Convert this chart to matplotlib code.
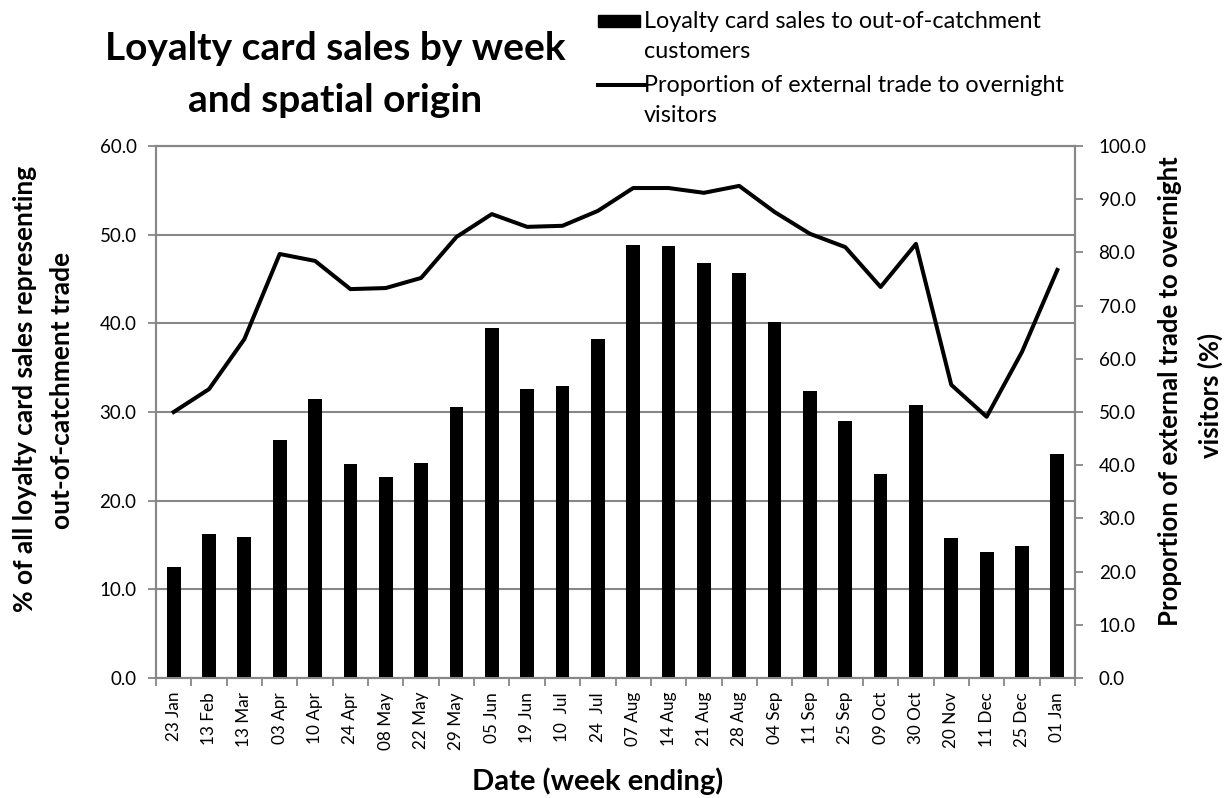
import numpy as np
import matplotlib.pyplot as plt
from matplotlib.patches import Rectangle
from matplotlib.lines import Line2D

plt.rcParams['font.family'] = ['Lato', 'DejaVu Sans']

weeks = ['23 Jan', '13 Feb', '13 Mar', '03 Apr', '10 Apr', '24 Apr', '08 May', '22 May',
         '29 May', '05 Jun', '19 Jun', '10  Jul', '24  Jul', '07 Aug', '14 Aug', '21 Aug',
         '28 Aug', '04 Sep', '11 Sep', '25 Sep', '09 Oct', '30 Oct', '20 Nov', '11 Dec',
         '25 Dec', '01 Jan']
card_sales = [12.5, 16.2, 15.9, 26.8, 31.5, 24.1, 22.7, 24.2, 30.6, 39.5, 32.6, 32.9, 38.2,
              48.8, 48.7, 46.8, 45.7, 40.1, 32.4, 29.0, 23.0, 30.8, 15.8, 14.2, 14.9, 25.3]
overnight = [50.0, 54.3, 63.7, 79.7, 78.4, 73.1, 73.3, 75.2, 82.9, 87.2, 84.8, 85.0, 87.8,
             92.1, 92.1, 91.2, 92.5, 87.6, 83.5, 81.0, 73.5, 81.6, 55.1, 49.1, 61.3, 76.7]

W, H = 1231, 798
grey = '#878787'
x = np.arange(len(weeks))


def fx(px):
    return px / W


def fy(py):
    return 1 - py / H


fig = plt.figure(figsize=(W / 100, H / 100), dpi=100)
ax = fig.add_axes([fx(156), fy(678), (1075 - 156) / W, (678 - 146) / H])
ax2 = ax.twinx()

ax.bar(x, card_sales, width=0.39, color='black', zorder=3)
ax.set_ylim(0, 60)
ax.set_yticks(np.arange(0, 61, 10))
ax.set_yticklabels([f'{v:.1f}' for v in np.arange(0, 61, 10)], fontsize=13.5)
ax.yaxis.grid(True, color=grey, linewidth=1.5, zorder=0)
ax.set_axisbelow(True)
ax.set_xlim(-0.5, len(weeks) - 0.5)
ax.set_xticks(x)
ax.set_xticklabels(weeks, rotation=90, fontsize=12.3)
ax.tick_params(axis='x', which='major', length=0, pad=10)
ax.set_xticks(np.arange(-0.5, len(weeks), 1), minor=True)
ax.tick_params(axis='x', which='minor', length=6, color=grey, width=1.3)
ax.tick_params(axis='y', length=6, color=grey, width=1.3, pad=8)

ax2.plot(x, overnight, color='black', linewidth=2.9, zorder=4)
ax2.set_ylim(0, 100)
ax2.set_yticks(np.arange(0, 101, 10))
ax2.set_yticklabels([f'{v:.1f}' for v in np.arange(0, 101, 10)], fontsize=13.5)
ax2.tick_params(axis='y', length=6, color=grey, width=1.3, pad=11)

for a in (ax, ax2):
    for s in a.spines.values():
        s.set_color(grey)
        s.set_linewidth(1.5)

# axis titles, one text per line
fig.text(fx(25), fy(389), '% of all loyalty card sales representing', rotation=90,
         ha='center', va='center', fontsize=19, fontweight='bold')
fig.text(fx(62), fy(390), 'out-of-catchment trade', rotation=90,
         ha='center', va='center', fontsize=19, fontweight='bold')
fig.text(fx(1170), fy(391), 'Proportion of external trade to overnight', rotation=90,
         ha='center', va='center', fontsize=18.5, fontweight='bold')
fig.text(fx(1210), fy(395), 'visitors (%)', rotation=90,
         ha='center', va='center', fontsize=18.5, fontweight='bold')
fig.text(fx(598), fy(790), 'Date (week ending)', ha='center', va='baseline',
         fontsize=21, fontweight='bold')

fig.text(fx(335), fy(60), 'Loyalty card sales by week', ha='center', va='baseline',
         fontsize=28, fontweight='bold')
fig.text(fx(335), fy(112), 'and spatial origin', ha='center', va='baseline',
         fontsize=28, fontweight='bold')

# legend drawn by hand so the key sits on the first line of each entry
fig.patches.append(Rectangle((fx(598), fy(27)), 42 / W, 12 / H,
                             transform=fig.transFigure, color='black'))
fig.lines.append(Line2D([fx(598), fx(645)], [fy(85), fy(85)],
                        transform=fig.transFigure, color='black', linewidth=2.9))
legend_lines = [('Loyalty card sales to out-of-catchment', 28), ('customers', 58),
                ('Proportion of external trade to overnight', 92), ('visitors', 122)]
for txt, base in legend_lines:
    fig.text(fx(644), fy(base), txt, ha='left', va='baseline', fontsize=16.8)

fig.savefig('out.png', dpi=100)
